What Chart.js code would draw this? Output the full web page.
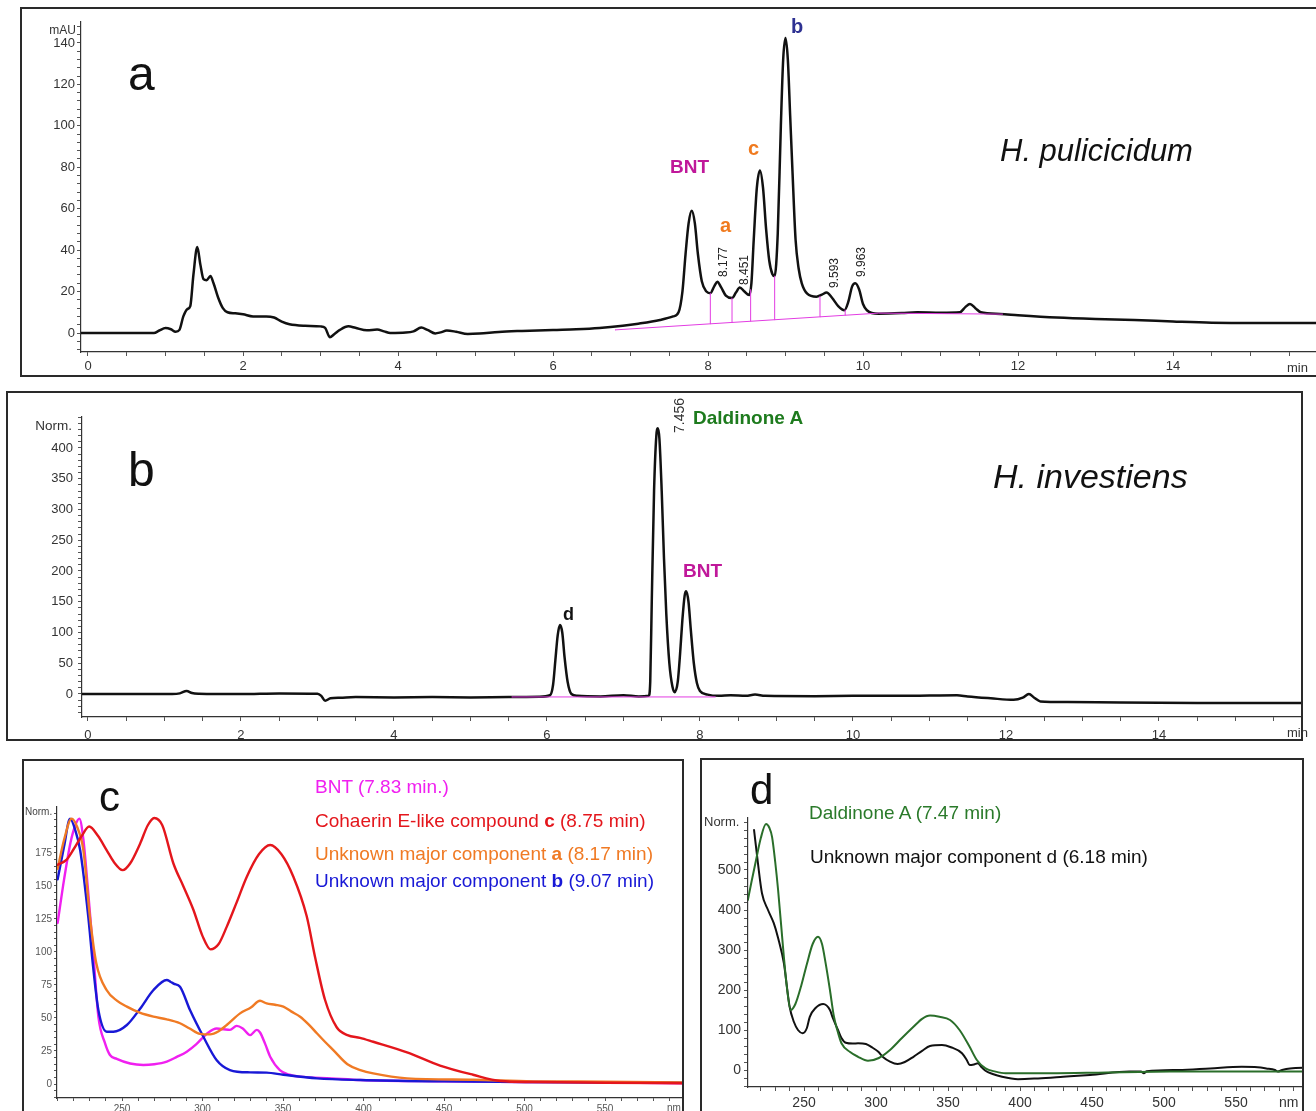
<!DOCTYPE html>
<html><head><meta charset="utf-8">
<script src="https://cdn.jsdelivr.net/npm/chart.js@4/dist/chart.umd.min.js"></script>
<style>
html,body{margin:0;padding:0;background:#fff;width:1316px;height:1111px;overflow:hidden;position:relative;font-family:"Liberation Sans",Arial,sans-serif;}
.box{position:absolute;border:2px solid #2a2a2a;box-sizing:border-box;pointer-events:none;z-index:2;}
canvas{position:absolute;z-index:1;}
.lbl{position:absolute;white-space:nowrap;line-height:1;z-index:3;}
</style></head><body>
<script>
// ---------- Panel a : H. pulicicidum chromatogram (time in min, signal in mAU) ----------
const aTime = [-0.09,0.5,0.85,0.92,1.0,1.07,1.13,1.18,1.23,1.28,1.32,1.36,1.41,1.45,1.49,1.53,1.58,1.62,1.68,1.74,1.8,1.9,2.0,2.13,2.3,2.4,2.5,2.6,2.8,3.0,3.06,3.12,3.18,3.25,3.36,3.45,3.6,3.73,3.82,3.9,4.1,4.2,4.3,4.38,4.48,4.55,4.63,4.75,4.9,5.05,5.3,5.6,6.0,6.3,6.6,6.9,7.1,7.38,7.55,7.62,7.67,7.71,7.75,7.79,7.83,7.87,7.92,7.98,8.03,8.08,8.12,8.17,8.23,8.31,8.36,8.41,8.47,8.53,8.56,8.59,8.63,8.67,8.71,8.75,8.79,8.83,8.86,8.9,8.94,8.97,9.0,9.03,9.06,9.09,9.13,9.17,9.21,9.28,9.4,9.47,9.53,9.6,9.68,9.76,9.81,9.86,9.9,9.95,10.0,10.05,10.2,10.5,10.7,11.0,11.25,11.32,11.38,11.45,11.52,11.77,12.0,12.5,13.0,13.5,14.0,14.5,15.0,15.85];
const aSignal = [0,0,0,1.2,2.4,1.8,0.6,1.5,8,11.5,13,28,41.5,33,26,25.5,27.5,24,17,12,10,9.5,9,8,8,7.5,5.5,4.2,3.5,3.2,2.5,-2,-0.5,1.5,3.2,2.5,1.3,1.7,0.8,0,0.2,0.8,2.6,1.5,-0.2,0.3,1.2,0.6,-0.5,-0.3,0.5,1.0,1.5,1.8,2.4,3.5,4.5,6.3,8,10,20,38,53,59,53,38,25,20,19.2,22.5,24.7,22,18,16.9,19.5,22,20,18.3,24,45,70,78.4,70,50,35,28.5,27.5,48,100,132,142.4,132,105,78,45,31,24,19,17.5,18.5,19.5,17,13,11,15,22.5,24,21,14,11,9.3,9.6,10,9.8,10,12.5,14,12,10,9.2,8.6,7.5,6.8,6.3,5.6,5.0,4.8,4.8];
const aBaseTime = [6.8,10.2,11.8];
const aBaseVal = [1.5,9.6,9.1];
const aCutTime = [8.03,8.31,8.55,8.86,9.445,9.77];
const aCutLow = [4.4,5.1,5.7,6.4,7.8,8.6];
const aCutHigh = [19.2,16.9,21,27.5,17.6,11.2];
const aPeakLabels = ['8.177','8.451','9.593','9.963'];

// ---------- Panel b : H. investiens chromatogram ----------
const bTime = [-0.08,1.1,1.2,1.29,1.36,1.45,2.0,2.5,3.0,3.05,3.1,3.17,3.3,3.5,4.0,4.5,5.0,5.5,5.9,6.04,6.08,6.11,6.14,6.17,6.2,6.23,6.27,6.32,6.4,6.7,7.0,7.2,7.33,7.35,7.37,7.4,7.43,7.45,7.47,7.5,7.53,7.56,7.6,7.64,7.67,7.71,7.74,7.77,7.8,7.82,7.85,7.88,7.92,7.96,8.0,8.1,8.25,8.4,8.6,8.72,8.85,9.5,10.0,10.5,11.0,11.36,11.5,11.8,12.1,12.22,12.3,12.37,12.45,12.8,13.5,14.5,15.87];
const bSignal = [0,0,1,5,1.5,0.5,0,1,0.5,-3,-11,-7,-6,-5,-5.5,-5,-5.5,-5,-4.5,-2,15,55,95,112,100,60,20,0,-3,-4,-2,-4,-3,20,150,330,420,432,415,330,220,130,50,12,3,20,65,120,160,167,150,105,50,18,5,-1,-3,-2,-3,-1,-3,-3.5,-3,-3,-2.5,-2,-4,-7,-9.5,-6,0,-6,-12,-13,-14,-14.5,-14.5];
const bBaseTime = [5.54,8.2];
const bBaseVal = [-4.8,-4.8];

// ---------- Panel c : UV spectra (nm, normalised) ----------
const cBntNm  = [210,214,218,221,223.5,226,228.5,232,235.3,239.4,242.5,246.7,255,263.2,270,277.8,284,290.2,296,302.6,308.8,313,317,321.2,325,329.5,333.7,335.7,339,342,348,354,360.6,380,398,450,500,550,598];
const cBntVal = [122,155,183,196,201,185,152,101.5,51,31,22,19,15.5,14.4,15,17,20.5,24.5,30,38,42,41.5,41,44,42,37,41,39,30,20.7,10.6,7,5.6,4.3,3,2,1.5,1.3,0.5];
const cCohNm  = [210,215.6,220,225,229.6,235,240.5,245,250.4,255,261.2,266,270,275,281.9,288,294.3,300,305,310,315,321,327.5,335,342,349,356.4,364.7,369.9,376,383.3,390,397.8,406,427,447.5,468,485,505,550,598];
const cCohVal = [166,170,178,188,195,188,177,168,162,167,182,196,201.5,196,167,150,132,112,102,106,119,137,157,174,181,174,157,127,96,64,43,37,35,32,24,14,7,2.3,1.5,1,0.6];
const cANm    = [210,214,218.7,222,226,230,234,240.5,247,253,261,269.5,277.8,286,292,298.4,304.7,310,315,323.3,330,335.7,339.8,345,350.2,355,360.6,366,371,376,381.2,390,398,406,427,468,505,550,598];
const cAVal   = [163,185,201,195,177,127,91.5,71,63,58.6,54,51,49,46,42,38,37.6,40,44.7,53.5,58,63,61,60,58.6,55,51,45,38.4,32,25.7,15,10.6,8,4.3,3.2,2,1.8,1.2];
const cBNm    = [210,214,217.7,221,224,229,232,235.3,240.5,244.6,253,261.2,269.4,277.8,280,282,286,292.2,300.5,308.8,317,329.5,339.8,350.2,371,398,450,500,598];
const cBVal   = [155,180,201,192,177,127,89,56,39.6,39.6,44.7,57,71,78.8,77.5,76,73.7,56,35.8,18,10.6,8.8,8.6,7,4.3,3,2,1.5,1];

// ---------- Panel d : UV spectra ----------
const dDalNm  = [211,213.5,216.7,220,223.6,226,227.8,230,232,236,238,240.8,244,248,252,256,259.7,262.5,265,268,270.8,273.5,276,282,287.5,294.4,302,309.7,318,326,332,337.5,344,351.4,358,365,370,376,383,390,420.8,460,504,550,597];
const dDalVal = [425,470,525,580,615,605,583,520,450,283,210,150,165,210,265,315,333,315,267,200,133,95,67,45,33,23,30,50,80,108,128,136,133,125,100,58,25,4,-4,-8,-8,-6,-4,-3.5,-3.5];
const dUnkNm  = [215.3,218,220.8,225,229,232,236,240,243,245.8,249,252,254,258,263.3,268,270,273.6,276,279,284,287.5,293,297,301.4,305,309.7,315,320,326,332,337.5,345.8,352,359.7,363,365,368,370.8,373,376,381,387.5,398.6,412.5,430,448.6,476,484,486,488,510,532,554,565,571,577,579,582,587.5,603];
const dUnkVal = [600,517,442,400,367,330,267,158,120,100,92,105,133,155,165,150,130,100,80,68,66,67,65,57,46,32,21,15,20,33,48,60,62.5,57,42,25,12.5,14,17,8,-2,-10,-17,-23,-21,-17,-12.5,-4,-4,-8,-3,0,4,8,7,4,0,-4,0,4,6];

// ---------------------------------------------------------------
const FONT = '"Liberation Sans", Arial, sans-serif';
Chart.defaults.font.family = FONT;

function pts(xs, ys){ return xs.map((x,i)=>({x:x, y:ys[i]})); }
function cutPts(ts, lo, hi){ const out=[]; ts.forEach((t,i)=>{ out.push({x:t,y:lo[i]},{x:t,y:hi[i]},{x:t,y:null}); }); return out; }

function addCanvas(left, top, w, h){
  const c=document.createElement('canvas');
  c.width=w; c.height=h;
  c.style.left=left+'px'; c.style.top=top+'px'; c.style.width=w+'px'; c.style.height=h+'px';
  document.body.appendChild(c); return c;
}
function addBox(l,t,w,h){
  const d=document.createElement('div'); d.className='box';
  d.style.left=l+'px'; d.style.top=t+'px'; d.style.width=w+'px'; d.style.height=h+'px';
  document.body.appendChild(d);
}
function label(html, x, baseline, size, color, o){
  o=o||{};
  const d=document.createElement('div'); d.className='lbl';
  d.innerHTML=html;
  d.style.fontSize=size+'px'; d.style.color=color;
  if(o.bold) d.style.fontWeight='bold';
  if(o.italic) d.style.fontStyle='italic';
  const b = 0.8465*size;
  if(o.rotate){
    d.style.left=(x-b)+'px'; d.style.top=baseline+'px';
    d.style.transformOrigin='0 0'; d.style.transform='rotate(-90deg)';
  } else {
    d.style.top=(baseline-b)+'px';
    if(o.align==='right'){ d.style.left=(x-1000)+'px'; d.style.width='1000px'; d.style.textAlign='right'; }
    else d.style.left=x+'px';
  }
  document.body.appendChild(d);
}

function axisCfg(o){
  return {
    type:'linear', min:o.min, max:o.max,
    afterFit: s => { if (o.horizontal) s.height = o.size; else s.width = o.size; },
    border:{display:true,color:'#333',width:1.2},
    grid:{display:true,drawOnChartArea:false,drawTicks:true,tickLength:o.tickLength,tickColor:'#555',tickWidth:1},
    ticks:{stepSize:o.step, autoSkip:false, includeBounds:false, maxRotation:0, minRotation:0,
      padding:o.pad, color:o.color, font:{size:o.fontSize, family:FONT},
      callback: v => {
        const q=v/o.labelEvery;
        if (Math.abs(q-Math.round(q))<1e-6 && (o.labelMax===undefined || v<=o.labelMax)) return String(Math.round(v*1000)/1000);
        return '';
      }}
  };
}
function makeChart(canvas, datasets, xo, yo, padding){
  return new Chart(canvas, {type:'line', data:{datasets:datasets}, options:{
    responsive:false, animation:false, devicePixelRatio:1, events:[],
    layout:{padding:padding},
    plugins:{legend:{display:false}, tooltip:{enabled:false}, title:{display:false}},
    elements:{point:{radius:0}, line:{borderJoinStyle:'round', borderCapStyle:'round'}},
    scales:{x:axisCfg(Object.assign({horizontal:true},xo)), y:axisCfg(yo)}
  }});
}
function ds(data, color, width, smooth){
  return {data:data, borderColor:color, borderWidth:width, fill:false, pointRadius:0,
    tension: smooth?0.4:0, cubicInterpolationMode: smooth?'monotone':'default', spanGaps:false};
}

// ----- Panel a -----
makeChart(addCanvas(0,0,1316,376), [
  ds(pts(aBaseTime,aBaseVal), '#e23ce2', 1, false),
  ds(cutPts(aCutTime,aCutLow,aCutHigh), '#e23ce2', 1, false),
  ds(pts(aTime,aSignal), '#111', 2.5, true)
], {min:-0.0903,max:15.845,size:24,step:0.5,labelEvery:2,tickLength:4,pad:3,color:'#333',fontSize:13},
   {min:-9.17,max:150.1,size:81,step:4,labelEvery:20,labelMax:140,tickLength:4,pad:2,color:'#333',fontSize:13},
   {left:0,top:22,right:0,bottom:0});
addBox(20,7,1320,370);

// ----- Panel b -----
makeChart(addCanvas(0,391,1303,350), [
  ds(pts(bBaseTime,bBaseVal), '#e23ce2', 1, false),
  ds(pts(bTime,bSignal), '#111', 2.5, true)
], {min:-0.078,max:15.87,size:24,step:0.5,labelEvery:2,tickLength:4,pad:7,color:'#333',fontSize:13},
   {min:-37.4,max:450.4,size:82,step:10,labelEvery:50,labelMax:400,tickLength:4,pad:5,color:'#333',fontSize:13},
   {left:0,top:26,right:1,bottom:0});
addBox(6,391,1297,350);

// ----- Panel c -----
makeChart(addCanvas(0,759,684,352), [
  ds(pts(cCohNm,cCohVal), '#e4161c', 2.4, true),
  ds(pts(cANm,cAVal), '#f07a24', 2.4, true),
  ds(pts(cBNm,cBVal), '#1818d6', 2.4, true),
  ds(pts(cBntNm,cBntVal), '#f020f0', 2.4, true)
], {min:209.6,max:598.4,size:13,step:10,labelEvery:50,tickLength:3,pad:2,color:'#555',fontSize:10},
   {min:-10.6,max:209.8,size:57,step:5,labelEvery:25,labelMax:175,tickLength:3,pad:2,color:'#555',fontSize:10},
   {left:0,top:48,right:1,bottom:0});
addBox(22,759,662,380);

// ----- Panel d -----
makeChart(addCanvas(694,758,610,353), [
  ds(pts(dDalNm,dDalVal), '#2a6e2a', 2, true),
  ds(pts(dUnkNm,dUnkVal), '#111', 2, true)
], {min:211.1,max:596.5,size:24,step:10,labelEvery:50,tickLength:4,pad:4,color:'#333',fontSize:14},
   {min:-42.5,max:630,size:54,step:20,labelEvery:100,labelMax:500,tickLength:4,pad:3,color:'#333',fontSize:14},
   {left:0,top:60,right:1,bottom:0});
addBox(700,758,604,380);

// ----- Text labels -----
// panel a
label('mAU', 76, 34, 12, '#333', {align:'right'});
label('a', 128, 91, 48, '#111');
label('H. pulicicidum', 1000, 161, 31, '#111', {italic:true});
label('BNT', 670, 173, 19, '#c0189a', {bold:true});
label('a', 720, 232, 20, '#f07a1e', {bold:true});
label('c', 748, 155, 20, '#f07a1e', {bold:true});
label('b', 791, 33, 20, '#2e3192', {bold:true});
label(aPeakLabels[0], 727, 277, 12, '#222', {rotate:true});
label(aPeakLabels[1], 748, 285, 12, '#222', {rotate:true});
label(aPeakLabels[2], 838, 288, 12, '#222', {rotate:true});
label(aPeakLabels[3], 865, 277, 12, '#222', {rotate:true});
label('min', 1287, 372, 13, '#333');
// panel b
label('Norm.', 72, 430, 13.5, '#333', {align:'right'});
label('b', 128, 487, 48, '#111');
label('H. investiens', 993, 488, 34, '#111', {italic:true});
label('d', 563, 620, 18, '#111', {bold:true});
label('7.456', 684, 433, 14, '#333', {rotate:true});
label('Daldinone A', 693, 424, 19, '#1e7b1e', {bold:true});
label('BNT', 683, 577, 19, '#c0189a', {bold:true});
label('min', 1287, 737, 13, '#333');
// panel c
label('c', 99, 812, 42, '#111');
label('Norm.', 25, 815, 10, '#444');
label('BNT (7.83 min.)', 315, 793, 19, '#f020f0');
label('Cohaerin E-like compound <b>c</b> (8.75 min)', 315, 827, 19, '#e4161c');
label('Unknown major component <b>a</b> (8.17 min)', 315, 860, 19, '#f07a24');
label('Unknown major component <b>b</b> (9.07 min)', 315, 887, 19, '#1818d6');
label('nm', 667, 1111, 10, '#555');
// panel d
label('d', 750, 805, 42, '#111');
label('Norm.', 704, 826, 13, '#333');
label('Daldinone A (7.47 min)', 809, 819, 19, '#2a7a2a');
label('Unknown major component d (6.18 min)', 810, 863, 19, '#111');
label('nm', 1279, 1107, 14, '#333');
</script>
</body></html>
